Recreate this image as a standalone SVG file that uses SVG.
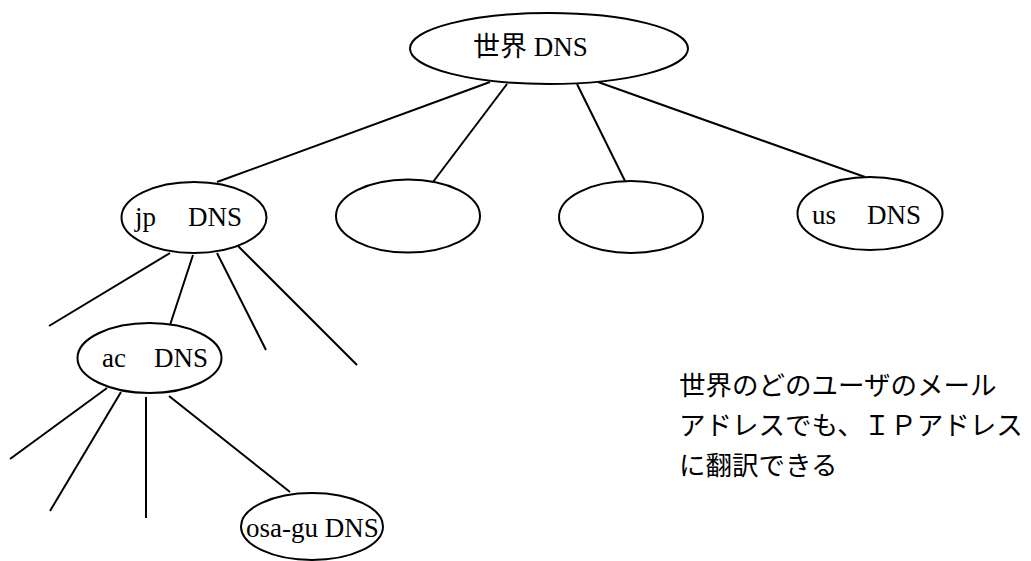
<svg xmlns="http://www.w3.org/2000/svg" width="1031" height="561" viewBox="0 0 1031 561">
<style>
.n{fill:#fff;stroke:#000;stroke-width:2}
.c line{stroke:#000;stroke-width:2}
.t{font-family:"Liberation Serif","Noto Sans CJK JP",serif;font-size:27px;fill:#000}
.j{font-family:"Noto Sans CJK JP",sans-serif;font-size:26.5px;fill:#000}
</style>
<rect width="1031" height="561" fill="#fff"/>
<g id="connectors" class="c">
<line x1="490" y1="82" x2="217" y2="182"/>
<line x1="507" y1="84" x2="433" y2="182"/>
<line x1="577" y1="84" x2="625" y2="181"/>
<line x1="598" y1="82" x2="865" y2="177"/>
<line x1="170" y1="253" x2="49" y2="326"/>
<line x1="193" y1="255" x2="170" y2="325"/>
<line x1="217" y1="253" x2="266" y2="350"/>
<line x1="238" y1="246" x2="357" y2="365"/>
<line x1="107" y1="388" x2="10" y2="459"/>
<line x1="121" y1="392" x2="50" y2="511"/>
<line x1="146" y1="397" x2="146" y2="518"/>
<line x1="169" y1="396" x2="290" y2="492"/>
</g>
<g id="world">
<ellipse class="n" cx="549" cy="48.5" rx="139" ry="35.5"/>
<text class="t" x="473" y="56">世界 DNS</text>
</g>
<g id="jp">
<ellipse class="n" cx="194" cy="217.5" rx="72.5" ry="35.5"/>
<text class="t" y="226"><tspan x="135">jp</tspan><tspan x="188">DNS</tspan></text>
</g>
<g id="node2">
<ellipse class="n" cx="408" cy="216" rx="72" ry="36.5"/>
</g>
<g id="node3">
<ellipse class="n" cx="631" cy="217" rx="72" ry="36"/>
</g>
<g id="us">
<ellipse class="n" cx="870" cy="213.5" rx="72.5" ry="36.5"/>
<text class="t" y="224"><tspan x="812">us</tspan><tspan x="867">DNS</tspan></text>
</g>
<g id="ac">
<ellipse class="n" cx="149.5" cy="358" rx="72" ry="35"/>
<text class="t" y="367"><tspan x="102">ac</tspan><tspan x="154">DNS</tspan></text>
</g>
<g id="osagu">
<ellipse class="n" cx="312" cy="526.5" rx="71" ry="33.5"/>
<text class="t" x="246" y="537">osa-gu DNS</text>
</g>
<g id="note">
<text class="j" x="679" y="395">世界のどのユーザのメール</text>
<text class="j" x="679" y="435">アドレスでも、ＩＰアドレス</text>
<text class="j" x="679" y="475">に翻訳できる</text>
</g>
</svg>
